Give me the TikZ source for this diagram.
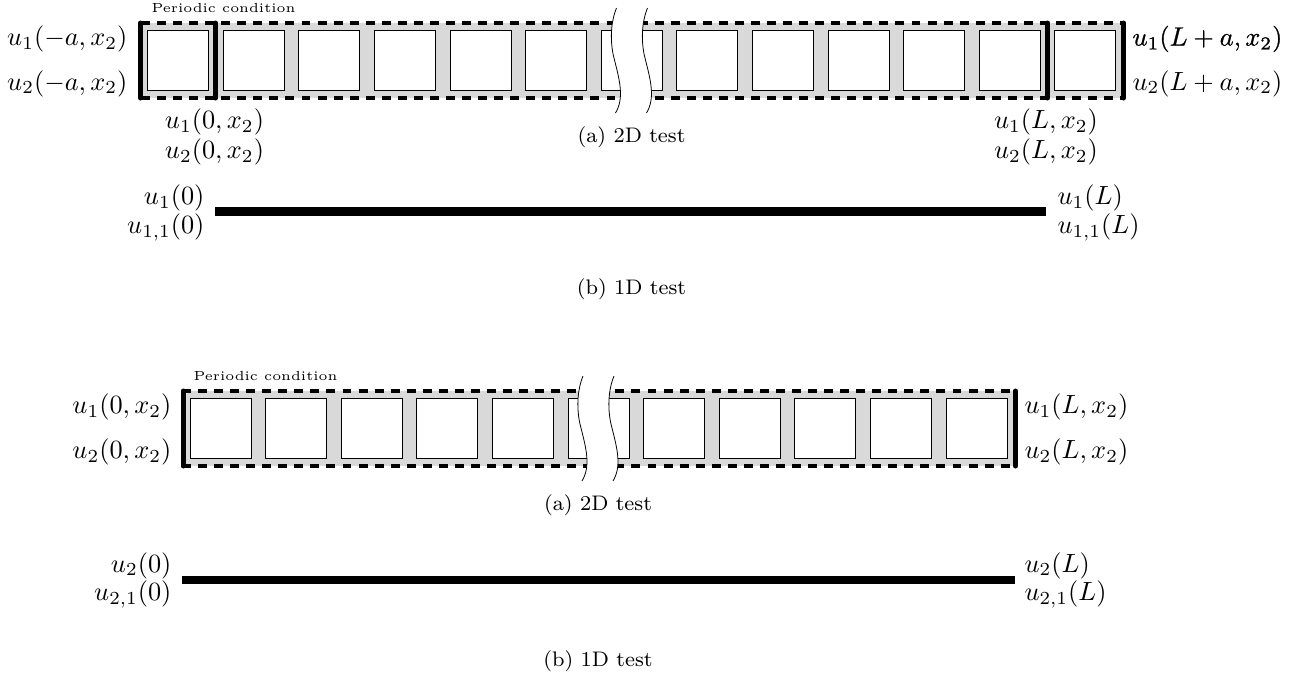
\documentclass[tikz,border=0pt]{standalone}
\usepackage{amsmath, amssymb}
\usepackage{tikz}

\newcommand{\heavy}[1]{\special{pdf:code 2 Tr 0.08 w}#1\special{pdf:code 0 Tr 0.4 w}}

\tikzset{
  band/.style={fill=black!15, draw=none},
  edgeline/.style={line width=1.25pt, dash pattern=on 3.4pt off 2.7pt},
  bar/.style={line width=1.9pt, line cap=round},
  cell/.style={draw, fill=white, line width=0.3pt},
  rod/.style={line width=3.2pt},
  lab/.style={inner sep=0pt},
  captext/.style={font=\footnotesize, inner sep=0pt, anchor=base},
  per/.style={font=\tiny, inner sep=0pt, anchor=base west},
  pics/gap/.style={code={
    \fill[white] (0,0) .. controls (-7,17) and (-6,38) .. (-2,52) .. controls (3,72) and (8,90) .. (-1,105)
      -- (30,105) .. controls (39,90) and (34,72) .. (29,52) .. controls (25,38) and (24,17) .. (31,0) -- cycle;
    \draw[line width=0.3pt] (0,0) .. controls (-7,17) and (-6,38) .. (-2,52) .. controls (3,72) and (8,90) .. (-1,105);
    \draw[line width=0.3pt] (31,0) .. controls (24,17) and (25,38) .. (29,52) .. controls (34,72) and (39,90) .. (30,105);
  }}
}

\begin{document}
\begin{tikzpicture}[x=0.38pt, y=-0.38pt]
  \useasboundingbox (0,0) rectangle (1313,673);

  % first picture, 2D
  \fill[band] (141,23) rectangle (1124,98);
  \draw[edgeline] (141,23) -- (1124,23);
  \draw[edgeline] (141,98) -- (1124,98);
  \foreach \i in {0,...,12}
    \draw[cell] ({147.5+75.6*\i},30) rectangle ++(61,60);
  \draw[bar] (140.5,23) -- (140.5,98);
  \draw[bar] (215.5,23) -- (215.5,98);
  \draw[bar] (1047.5,23) -- (1047.5,98);
  \draw[bar] (1123.5,23) -- (1123.5,98);
  \pic at (616.5,8) {gap};

  \node[per] (perA) at (151,12) {Periodic condition};
  \node[lab, anchor=base east] (la) at (128,45.5) {$u_1(-a,x_2)$};
  \node[lab, anchor=base east] (lb) at (128,90) {$u_2(-a,x_2)$};
  \node[lab, anchor=base west] (ra) at (1132,45.5) {\heavy{$u_1(L+a,x_2)$}};
  \node[lab, anchor=base west] (rb) at (1132,90) {$u_2(L+a,x_2)$};
  \node[lab, anchor=base] (ma) at (214.5,128.5) {$u_1(0,x_2)$};
  \node[lab, anchor=base] (mb) at (214.5,158.5) {$u_2(0,x_2)$};
  \node[lab, anchor=base] (na) at (1046,128.5) {$u_1(L,x_2)$};
  \node[lab, anchor=base] (nb) at (1046,158.5) {$u_2(L,x_2)$};
  \node[captext] (capA) at (631.5,142) {(a) 2D test};

  % first picture, 1D
  \draw[rod] (215,211.5) -- (1046,211.5);
  \node[lab, anchor=base east] (pa) at (205,204.5) {$u_1(0)$};
  \node[lab, anchor=base east] (pb) at (205,233.5) {$u_{1,1}(0)$};
  \node[lab, anchor=base west] (qa) at (1057,204.5) {$u_1(L)$};
  \node[lab, anchor=base west] (qb) at (1057,233.5) {$u_{1,1}(L)$};
  \node[captext] (capB) at (631.5,294.5) {(b) 1D test};

  % second picture, 2D
  \fill[band] (182,391) rectangle (1016,466);
  \draw[edgeline] (182,391) -- (1016,391);
  \draw[edgeline] (182,466) -- (1016,466);
  \foreach \i in {0,...,10}
    \draw[cell] ({190+75.6*\i},398) rectangle ++(61,60);
  \draw[bar] (183,391) -- (183,466);
  \draw[bar] (1015.5,391) -- (1015.5,466);
  \pic at (583,376) {gap};

  \node[per] (perB) at (193,380) {Periodic condition};
  \node[lab, anchor=base east] (sa) at (172,413.5) {$u_1(0,x_2)$};
  \node[lab, anchor=base east] (sb) at (172,458.5) {$u_2(0,x_2)$};
  \node[lab, anchor=base west] (ta) at (1024,413.5) {$u_1(L,x_2)$};
  \node[lab, anchor=base west] (tb) at (1024,458.5) {$u_2(L,x_2)$};
  \node[captext] (capC) at (598,510) {(a) 2D test};

  % second picture, 1D
  \draw[rod] (182,580) -- (1015,580);
  \node[lab, anchor=base east] (va) at (172,572) {$u_2(0)$};
  \node[lab, anchor=base east] (vb) at (172,600.5) {$u_{2,1}(0)$};
  \node[lab, anchor=base west] (wa) at (1024,572) {$u_2(L)$};
  \node[lab, anchor=base west] (wb) at (1024,600.5) {$u_{2,1}(L)$};
  \node[captext] (capD) at (598,666.5) {(b) 1D test};
\end{tikzpicture}
\end{document}
